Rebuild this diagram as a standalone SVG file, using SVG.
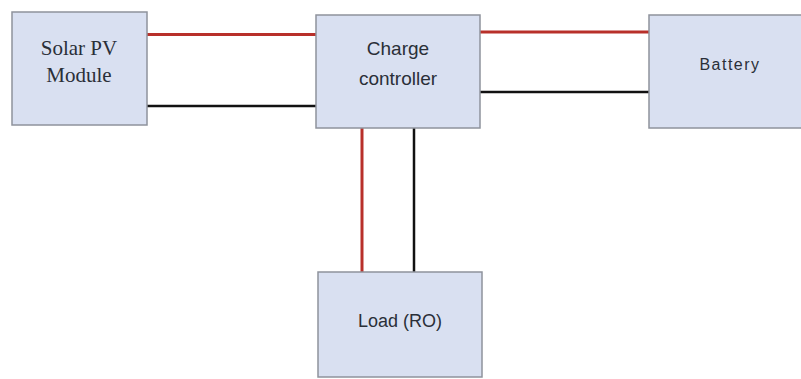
<svg xmlns="http://www.w3.org/2000/svg" width="801" height="379" viewBox="0 0 801 379">
<style>
.box{fill:#d9e0f1;stroke:#8e939c;stroke-width:1.5}
.sans{font-family:"Liberation Sans",Arial,sans-serif;fill:#2a2f38;text-anchor:middle}
.serif{font-family:"Liberation Serif","Times New Roman",serif;fill:#2a2f38;text-anchor:middle}
.pos{stroke:#b8302a;stroke-width:3;fill:none}
.neg{stroke:#111;stroke-width:2.5;fill:none}
</style>
<rect width="801" height="379" fill="#fff"/>
<g id="connectors">
<line class="pos" x1="147" y1="34.5" x2="316" y2="34.5"/>
<line class="neg" x1="147" y1="106" x2="316" y2="106"/>
<line class="pos" x1="480" y1="32" x2="649" y2="32"/>
<line class="neg" x1="480" y1="92" x2="649" y2="92"/>
<line class="pos" x1="362" y1="128" x2="362" y2="272"/>
<line class="neg" x1="414" y1="128" x2="414" y2="272"/>
</g>
<g id="solar">
<rect class="box" x="12" y="12" width="135" height="113"/>
<text class="serif" x="79" y="55" font-size="21">Solar PV</text>
<text class="serif" x="79" y="82" font-size="21">Module</text>
</g>
<g id="controller">
<rect class="box" x="316" y="15" width="164" height="113"/>
<text class="sans" x="398" y="55" font-size="19">Charge</text>
<text class="sans" x="398" y="85" font-size="19">controller</text>
</g>
<g id="battery">
<rect class="box" x="649" y="15" width="170" height="113"/>
<text class="sans" x="730" y="70" font-size="16" letter-spacing="1.5">Battery</text>
</g>
<g id="load">
<rect class="box" x="318" y="272" width="164" height="105"/>
<text class="sans" x="400" y="327" font-size="18">Load (RO)</text>
</g>
</svg>
